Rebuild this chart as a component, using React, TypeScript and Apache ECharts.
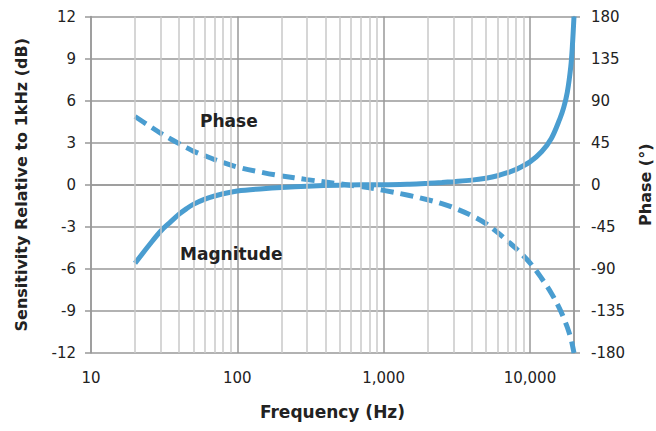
import React, { useEffect, useRef } from "react";
import * as echarts from "echarts";

const freqs = [20, 25, 30, 35, 40, 45, 50, 60, 70, 100, 150, 200, 300, 500, 700, 1000, 1500, 2000, 2500, 3000, 4000, 5000, 6000, 7000, 8000, 10000, 12000, 14000, 16000, 17000, 18000, 19000, 19500, 20000];
const magnitudeDb = [-5.6, -4.3, -3.3, -2.65, -2.1, -1.7, -1.4, -1.03, -0.8, -0.45, -0.28, -0.19, -0.1, -0.03, 0, 0, 0.04, 0.1, 0.16, 0.22, 0.33, 0.47, 0.64, 0.86, 1.08, 1.63, 2.35, 3.3, 4.7, 5.5, 6.6, 8.4, 9.9, 12.0];
const phaseDeg = [73, 63, 55, 49, 44, 39.7, 36, 31, 27, 19, 13, 9.5, 5.5, 1, -2, -6, -11.5, -16, -20.2, -24.5, -33, -41.5, -51, -60, -68, -83.5, -100, -116, -133, -142.5, -152.5, -164, -171.5, -180];
const minorFreqs = [20, 30, 40, 50, 60, 70, 80, 90, 200, 300, 400, 500, 600, 700, 800, 900, 2000, 3000, 4000, 5000, 6000, 7000, 8000, 9000];

const BLUE = "#4a9dd0";
const FONT = "DejaVu Sans";

export default function App() {
  const ref = useRef<HTMLDivElement>(null);
  useEffect(() => {
    const chart = echarts.init(ref.current!, null, { renderer: "svg" });
    const axisText = { color: "#222", fontSize: 15, fontFamily: FONT };
    const nameText = { color: "#222", fontSize: 16, fontWeight: "bold" as const, fontFamily: FONT };
    chart.setOption({
      animation: false,
      grid: { left: 91, right: 82, top: 16.5, bottom: 78, containLabel: false, outerBoundsMode: "none" },
      xAxis: {
        type: "log",
        logBase: 10,
        min: 10,
        max: 20000,
        name: "Frequency (Hz)",
        nameLocation: "middle",
        nameGap: 50,
        nameTextStyle: { ...nameText, fontSize: 17 },
        axisLine: { show: true, lineStyle: { color: "#999", width: 1.5 } },
        axisTick: { show: false },
        axisLabel: { ...axisText, margin: 17, formatter: (v: number) => Math.round(v).toLocaleString("en-US") },
        splitLine: { show: true, lineStyle: { color: "#999", width: 1.5 } },
        minorTick: { show: false },
        minorSplitLine: { show: false },
      },
      yAxis: [
        {
          type: "value",
          min: -12,
          max: 12,
          interval: 3,
          name: "Sensitivity Relative to 1kHz (dB)",
          nameLocation: "middle",
          nameGap: 62,
          nameRotate: 90,
          nameTextStyle: nameText,
          axisLine: { show: true, lineStyle: { color: "#999", width: 1.5 } },
          axisTick: { show: true, length: 6, lineStyle: { color: "#999", width: 1.5 } },
          axisLabel: { ...axisText, margin: 15 },
          splitLine: { show: true, lineStyle: { color: "#999", width: 1.5 } },
        },
        {
          type: "value",
          min: -180,
          max: 180,
          interval: 45,
          position: "right",
          name: "Phase (°)",
          nameLocation: "middle",
          nameGap: 63,
          nameRotate: 90,
          nameTextStyle: nameText,
          axisLine: { show: true, lineStyle: { color: "#999", width: 1.5 } },
          axisTick: { show: true, length: 6, lineStyle: { color: "#999", width: 1.5 } },
          axisLabel: { ...axisText, margin: 17 },
          splitLine: { show: false },
        },
      ],
      series: [
        {
          name: "minorGrid",
          type: "line",
          data: [],
          silent: true,
          z: 1,
          markLine: {
            silent: true,
            symbol: ["none", "none"],
            label: { show: false },
            lineStyle: { color: "#c8c8c8", width: 1.5, type: "solid" },
            data: minorFreqs.map((f) => ({ xAxis: f })),
          },
        },
        {
          name: "Phase",
          type: "line",
          yAxisIndex: 1,
          data: freqs.map((f, i) => [f, phaseDeg[i]]),
          smooth: 0.35,
          showSymbol: false,
          lineStyle: { color: BLUE, width: 5, type: [13, 7] },
          z: 3,
        },
        {
          name: "Magnitude",
          type: "line",
          yAxisIndex: 0,
          data: freqs.map((f, i) => [f, magnitudeDb[i]]),
          smooth: 0.35,
          showSymbol: false,
          lineStyle: { color: BLUE, width: 5 },
          z: 4,
        },
      ],
      graphic: [
        {
          type: "text",
          left: 200,
          top: 112,
          style: { text: "Phase", fill: "#222", font: `bold 17px "${FONT}"` },
          z: 10,
        },
        {
          type: "text",
          left: 180,
          top: 245,
          style: { text: "Magnitude", fill: "#222", font: `bold 17px "${FONT}"` },
          z: 10,
        },
      ],
    });
    return () => chart.dispose();
  }, []);
  return <div ref={ref} style={{ position: "absolute", left: 0, top: 0, width: 656, height: 431 }} />;
}
